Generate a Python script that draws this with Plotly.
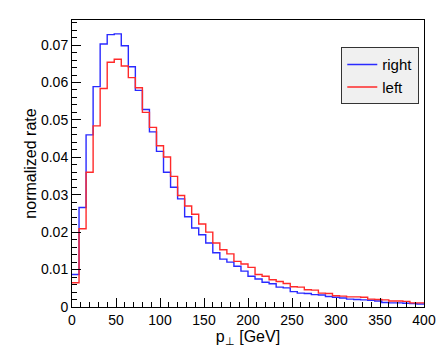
# pT spectra of right- and left-handed samples, ROOT-style step histogram
import numpy as np
import plotly.graph_objects as go

bin_width = 8  # GeV, 50 bins from 0 to 400

right = [0.0087, 0.0266, 0.0460, 0.0589, 0.0703, 0.0728, 0.0730, 0.0698, 0.0642, 0.0579,
         0.0528, 0.0468, 0.0416, 0.0360, 0.0320, 0.0289, 0.0241, 0.0211, 0.0193, 0.0171,
         0.0145, 0.0128, 0.0120, 0.0109, 0.0096, 0.0082, 0.0075, 0.0066, 0.0062, 0.0053,
         0.0051, 0.0041, 0.0037, 0.0036, 0.0033, 0.0032, 0.0028, 0.0026, 0.0024, 0.0021,
         0.0020, 0.0019, 0.0018, 0.0016, 0.0012, 0.0011, 0.0011, 0.0010, 0.0009, 0.0008]

left = [0.0065, 0.0209, 0.0360, 0.0484, 0.0584, 0.0654, 0.0662, 0.0644, 0.0613, 0.0586,
        0.0520, 0.0480, 0.0431, 0.0401, 0.0349, 0.0298, 0.0270, 0.0248, 0.0222, 0.0200,
        0.0171, 0.0153, 0.0142, 0.0122, 0.0115, 0.0106, 0.0087, 0.0082, 0.0073, 0.0068,
        0.0063, 0.0054, 0.0053, 0.0046, 0.0045, 0.0037, 0.0036, 0.0030, 0.0029, 0.0027,
        0.0027, 0.0026, 0.0021, 0.0020, 0.0019, 0.0016, 0.0016, 0.0015, 0.0011, 0.0011]

x_ticks = [0, 50, 100, 150, 200, 250, 300, 350, 400]
y_ticks = [0, 0.01, 0.02, 0.03, 0.04, 0.05, 0.06, 0.07]
y_labels = ["0", "0.01", "0.02", "0.03", "0.04", "0.05", "0.06", "0.07"]

edges = np.arange(len(right) + 1) * bin_width

fig = go.Figure()
fig.add_trace(go.Scatter(x=edges, y=right + right[-1:], mode="lines", name="right",
                         line=dict(color="#2a2aff", width=1.4, shape="hv")))
fig.add_trace(go.Scatter(x=edges, y=left + left[-1:], mode="lines", name="left",
                         line=dict(color="#ff2a2a", width=1.4, shape="hv")))

font = "Liberation Sans, Arial, Helvetica, sans-serif"
fig.update_layout(
    width=441, height=359,
    margin=dict(l=72, r=17, t=20, b=52),
    paper_bgcolor="white", plot_bgcolor="white",
    font=dict(family=font, size=14, color="black"),
    legend=dict(x=0.765, y=0.905, xanchor="left", yanchor="top",
                bgcolor="#f0f0f0", bordercolor="#333333", borderwidth=1,
                font=dict(size=15), itemwidth=30, tracegroupgap=0),
    showlegend=True,
)
fig.update_xaxes(
    range=[0, 400], tickvals=x_ticks, showgrid=False, zeroline=False, automargin=False,
    showline=True, linecolor="black", linewidth=1, mirror=True,
    ticks="inside", ticklen=9, tickcolor="black",
    minor=dict(dtick=10, ticks="inside", ticklen=5, tickcolor="black", showgrid=False),
    title=dict(text="p<sub>⊥</sub> [GeV]", font=dict(size=16), standoff=2),
)
fig.update_yaxes(
    range=[0, 0.0767], tickvals=y_ticks, ticktext=y_labels, showgrid=False, zeroline=False,
    automargin=False,
    showline=True, linecolor="black", linewidth=1, mirror=True,
    ticks="inside", ticklen=9, tickcolor="black",
    minor=dict(dtick=0.002, ticks="inside", ticklen=5, tickcolor="black", showgrid=False),
    title=dict(text="normalized rate", font=dict(size=16), standoff=0),
)

# drop the default page margin so the figure sits at the window's corner
fig.write_html("out.html", config={"displayModeBar": False},
               post_script="document.body.style.margin='0';")
